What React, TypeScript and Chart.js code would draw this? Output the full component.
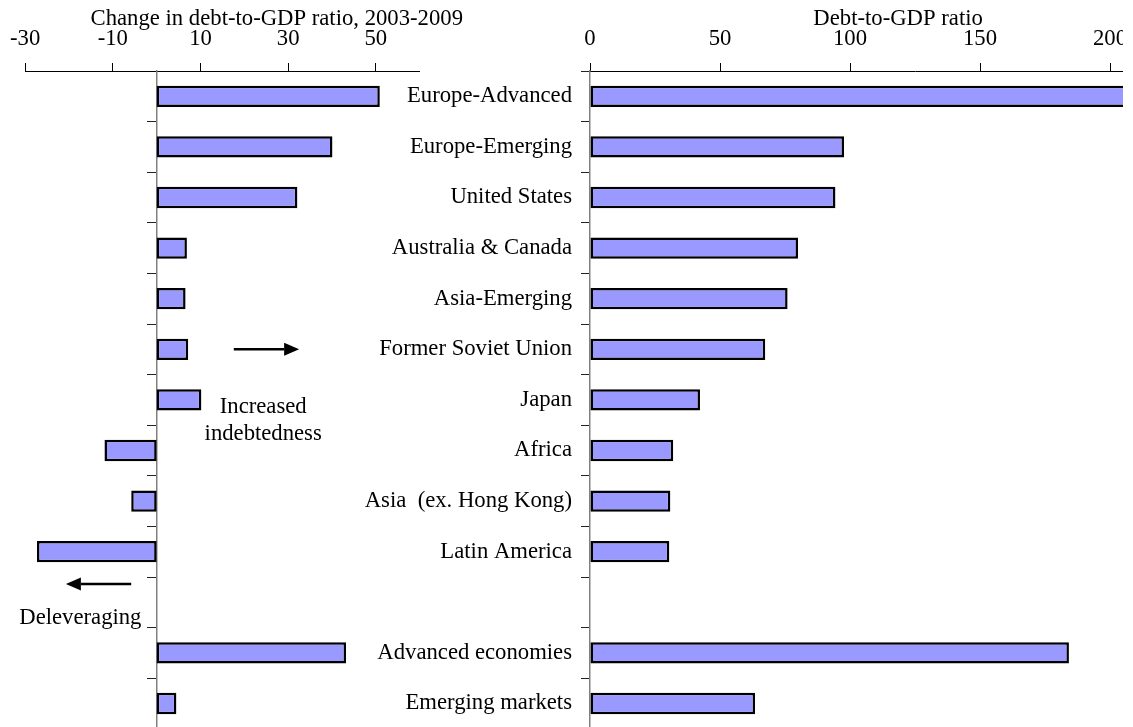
import React, { useEffect, useRef } from "react";
import { Chart, registerables } from "chart.js";

Chart.register(...registerables);

// ---- data ----
const categories = [
  "Europe-Advanced",
  "Europe-Emerging",
  "United States",
  "Australia & Canada",
  "Asia-Emerging",
  "Former Soviet Union",
  "Japan",
  "Africa",
  "Asia  (ex. Hong Kong)",
  "Latin America",
  "",
  "Advanced economies",
  "Emerging markets",
];
const changeValues = [50.9, 40.1, 32.1, 6.9, 6.6, 7.2, 10.2, -11.9, -5.8, -27.3, null, 43.2, 4.5];
const debtValues = [230, 97.7, 94.4, 80.0, 76.0, 67.4, 42.3, 32.0, 30.9, 30.5, null, 184.2, 63.5];
const changeTicks = [-30, -10, 10, 30, 50];
const debtTicks = [0, 50, 100, 150, 200];
const changeTitle = "Change in debt-to-GDP ratio, 2003-2009";
const debtTitle = "Debt-to-GDP ratio";
const noteUp1 = "Increased";
const noteUp2 = "indebtedness";
const noteDown = "Deleveraging";

const FONT = '"Liberation Serif", "Times New Roman", Times, serif';
const FS = 22.7;
const BAR_FILL = "#9999FF";

const panelText = {
  id: "panelText",
  afterDraw(chart: any, _args: any, opts: any) {
    const { ctx } = chart;
    const xs = chart.scales.x;
    const ys = chart.scales.y;
    ctx.save();
    ctx.fillStyle = "#000";
    ctx.strokeStyle = "#000";
    ctx.font = `${FS}px ${FONT}`;
    ctx.textBaseline = "alphabetic";
    ctx.textAlign = "center";
    (opts.titles || []).forEach((t: any) => {
      ctx.fillText(t.text, xs.getPixelForValue(t.x), t.y);
    });
    (opts.notes || []).forEach((t: any) => {
      ctx.fillText(t.text, xs.getPixelForValue(t.x), ys.getPixelForValue(t.row));
    });
    (opts.arrows || []).forEach((a: any) => {
      const x1 = xs.getPixelForValue(a.from);
      const x2 = xs.getPixelForValue(a.to);
      const y = ys.getPixelForValue(a.row);
      const dir = Math.sign(x2 - x1);
      const head = 15;
      const half = 6.5;
      ctx.lineWidth = 2.5;
      ctx.beginPath();
      ctx.moveTo(x1, y);
      ctx.lineTo(x2 - dir * head, y);
      ctx.stroke();
      ctx.beginPath();
      ctx.moveTo(x2, y);
      ctx.lineTo(x2 - dir * head, y - half);
      ctx.lineTo(x2 - dir * head, y + half);
      ctx.closePath();
      ctx.fill();
    });
    ctx.restore();
  },
};

const tickFont = { family: FONT, size: FS };

const barDataset = (values: (number | null)[]) => ({
  data: values as any,
  backgroundColor: BAR_FILL,
  borderColor: "#000",
  borderWidth: 2.5,
  borderSkipped: false as any,
  barPercentage: 0.42,
  categoryPercentage: 1,
});

export default function App() {
  const leftRef = useRef<HTMLCanvasElement>(null);
  const rightRef = useRef<HTMLCanvasElement>(null);

  useEffect(() => {
    const left = new Chart(leftRef.current as HTMLCanvasElement, {
      type: "bar",
      data: { labels: categories, datasets: [barDataset(changeValues)] },
      plugins: [panelText],
      options: {
        indexAxis: "y",
        responsive: false,
        animation: false,
        layout: { padding: { left: 25, right: 60.3, top: 0, bottom: 51.2 } },
        plugins: {
          legend: { display: false },
          tooltip: { enabled: false },
          panelText: {
            titles: [{ text: changeTitle, x: 27.4, y: 25 }],
            notes: [
              { text: noteUp1, x: 24.3, row: 6.26 },
              { text: noteUp2, x: 24.3, row: 6.79 },
              { text: noteDown, x: -17.4, row: 10.43 },
            ],
            arrows: [
              { from: 17.6, to: 32.5, row: 5 },
              { from: -5.8, to: -20.7, row: 9.64 },
            ],
          },
        } as any,
        scales: {
          x: {
            type: "linear",
            position: "top",
            min: -30,
            max: 60,
            afterBuildTicks: (s: any) => {
              s.ticks = changeTicks.map((v) => ({ value: v }));
            },
            afterFit: (s: any) => {
              s.height = 71;
            },
            grid: { drawOnChartArea: false, drawTicks: true, tickLength: 8, color: "#000", lineWidth: 1 },
            border: { display: true, color: "#000", width: 1 },
            ticks: { color: "#000", font: tickFont, padding: 10, maxRotation: 0, autoSkip: false },
          },
          y: {
            type: "category",
            position: { x: 0 } as any,
            afterFit: (s: any) => {
              s.width = 0;
            },
            grid: { drawOnChartArea: false, tickLength: 9, color: "#222", offset: true },
            border: { display: true, color: "#808080", width: 1.5 },
            ticks: { display: false },
          },
        } as any,
      },
    });

    const right = new Chart(rightRef.current as HTMLCanvasElement, {
      type: "bar",
      data: { labels: categories, datasets: [barDataset(debtValues)] },
      plugins: [panelText],
      options: {
        indexAxis: "y",
        responsive: false,
        animation: false,
        layout: { padding: { left: 0, right: 20, top: 0, bottom: 51.2 } },
        plugins: {
          legend: { display: false },
          tooltip: { enabled: false },
          panelText: {
            titles: [{ text: debtTitle, x: 118.5, y: 25 }],
          },
        } as any,
        scales: {
          x: {
            type: "linear",
            position: "top",
            min: 0,
            max: 250,
            afterBuildTicks: (s: any) => {
              s.ticks = debtTicks.map((v) => ({ value: v }));
            },
            afterFit: (s: any) => {
              s.height = 71;
            },
            grid: { drawOnChartArea: false, drawTicks: true, tickLength: 8, color: "#000", lineWidth: 1 },
            border: { display: true, color: "#000", width: 1 },
            ticks: { color: "#000", font: tickFont, padding: 10, maxRotation: 0, autoSkip: false },
          },
          y: {
            type: "category",
            position: "left",
            afterFit: (s: any) => {
              s.width = 260;
            },
            grid: { drawOnChartArea: false, tickLength: 9, color: "#222", offset: true },
            border: { display: true, color: "#808080", width: 1.5 },
            ticks: { color: "#000", font: tickFont, padding: 9, autoSkip: false },
          },
        } as any,
      },
    });

    return () => {
      left.destroy();
      right.destroy();
    };
  }, []);

  return (
    <div
      style={{
        position: "fixed",
        left: 0,
        top: 0,
        width: 1123,
        height: 727,
        overflow: "hidden",
        background: "#fff",
      }}
    >
      <canvas
        ref={leftRef}
        width={480}
        height={780}
        style={{ position: "absolute", left: 0, top: 0, width: 480, height: 780 }}
      />
      <canvas
        ref={rightRef}
        width={930}
        height={780}
        style={{ position: "absolute", left: 330, top: 0, width: 930, height: 780 }}
      />
    </div>
  );
}
